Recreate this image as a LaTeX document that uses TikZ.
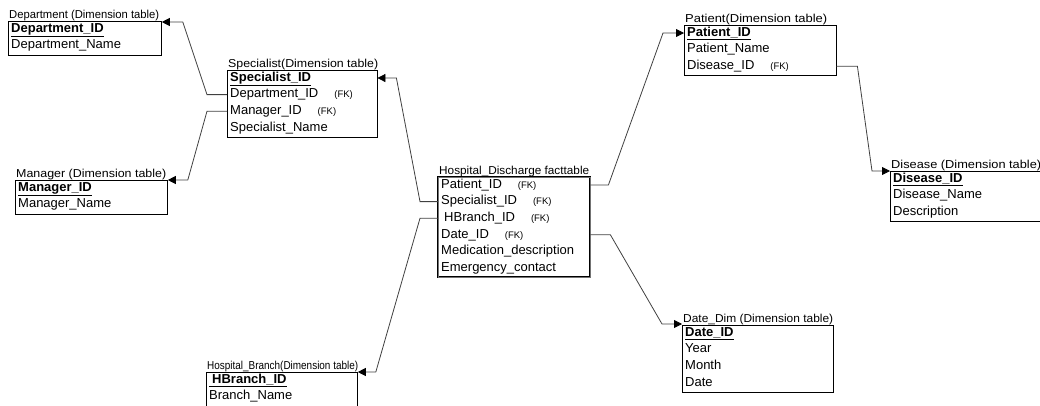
\documentclass[tikz,border=0pt]{standalone}
\usepackage{fontspec}
\setmainfont{Liberation Sans}
\usepackage{graphicx}
\usetikzlibrary{arrows.meta, calc}
\tikzstyle{schema} = [x = 1pt, y = -1pt]
\tikzstyle{tableFrame} = [draw, line width = .8pt, anchor = north west, inner sep = 0]
\tikzstyle{factFrame} = [tableFrame, line width = .7pt, double = black!55, double distance = .5pt]
\tikzstyle{fieldText} = [anchor = west, inner xsep = 3pt, inner ysep = 0, text height = 9.5pt, text depth = 3pt, align = left, font = \fieldFont]
\tikzstyle{titleText} = [anchor = base west, inner sep = 0, font = \titleFont]
\tikzstyle{link} = [color = black!75, line width = .8pt, -{Triangle[length = 8pt, width = 8pt, color = black]}]
\newcommand{\rowGap}{16.6}
\newcommand{\fieldFont}{\fontsize{13}{15}\selectfont}
\newcommand{\titleFont}{\fontsize{11.5}{13}\selectfont}
\newcommand{\keyField}[1]{\underline{\textbf{#1}}}
\newcommand{\fk}{\hspace{16pt}{\fontsize{9.5}{10}\selectfont (FK)}}
% [frame style] name, left, top, width, rows, title, title width, fields
\newcommand{\dimTable}[9][tableFrame]{
  \pgfmathsetmacro{\frameHeight}{(#6 - 1) * \rowGap + 17}
  \pgfmathsetmacro{\fieldWidth}{#5 - 6}
  \node [titleText] (#2-title) at ({#3 + 1}, {#4 - 2.5}) {\resizebox{#8pt}{\height}{#7}};
  \foreach \field [count = \i] in {#9} {
    \node [fieldText, text width = \fieldWidth pt] (#2-\i) at ({#3}, {#4 + 8 + (\i - 1) * \rowGap}) {\field};
  }
  \node [#1, minimum width = #5, minimum height = \frameHeight] (#2) at (#3, #4) {};
}

\begin{document}
\begin{tikzpicture}[schema]
    \useasboundingbox (0, 0) rectangle (1040, 405);
    \dimTable{dept}{8}{21}{153}{2}{Department (Dimension table)}{150}{\keyField{Department\_ID}, Department\_Name}
    \dimTable{spec}{227}{70}{150}{4}{Specialist(Dimension table)}{150}{\keyField{Specialist\_ID}, Department\_ID\fk, Manager\_ID\fk, Specialist\_Name}
    \dimTable{mgr}{15}{180}{152}{2}{Manager (Dimension table)}{150}{\keyField{Manager\_ID}, Manager\_Name}
    \dimTable{hb}{206}{372}{151}{2}{Hospital\_Branch(Dimension table)}{151}{\keyField{\hspace*{3pt}HBranch\_ID}, Branch\_Name}
    \dimTable[factFrame]{fact}{438}{177}{152}{6}{Hospital\_Discharge facttable}{150}{Patient\_ID\fk, Specialist\_ID\fk, \hspace*{3pt}HBranch\_ID\fk, Date\_ID\fk, Medication\_description, Emergency\_contact}
    \dimTable{pat}{684}{25}{152}{3}{Patient(Dimension table)}{142}{\keyField{Patient\_ID}, Patient\_Name, Disease\_ID\fk}
    \dimTable{dis}{890}{171}{152}{3}{Disease (Dimension table)}{150}{\keyField{Disease\_ID}, Disease\_Name, Description}
    \dimTable{date}{682}{325}{151}{4}{Date\_Dim (Dimension table)}{150}{\keyField{Date\_ID}, Year, Month, Date}
    \draw [link] (spec-2.west) -- ++(-20, 0) -- ($(dept.north east) + (21, 1)$) -- ($(dept.north east) + (0, 1)$);
    \draw [link] (spec-3.west) -- ++(-20, 0) -- ($(mgr.north east) + (20, 0)$) -- (mgr.north east);
    \draw [link] (fact-2.west) -- ++(-18, 0) -- ($(spec-1.east) + (19, 0)$) -- (spec-1.east);
    \draw [link] (fact-3.west) -- ++(-18, 0) -- ($(hb.north east) + (18, 0)$) -- (hb.north east);
    \draw [link] (fact-1.east) -- ++(18, 0) -- ($(pat-1.west) + (-21, 0)$) -- (pat-1.west);
    \draw [link] (fact-4.east) -- ++(20, 0) -- ($(date.north west) + (-20, -1)$) -- ($(date.north west) + (0, -1)$);
    \draw [link] (pat-3.east) -- ++(21, 0) -- ($(dis.north west) + (-18, 0)$) -- (dis.north west);
\end{tikzpicture}
\end{document}
